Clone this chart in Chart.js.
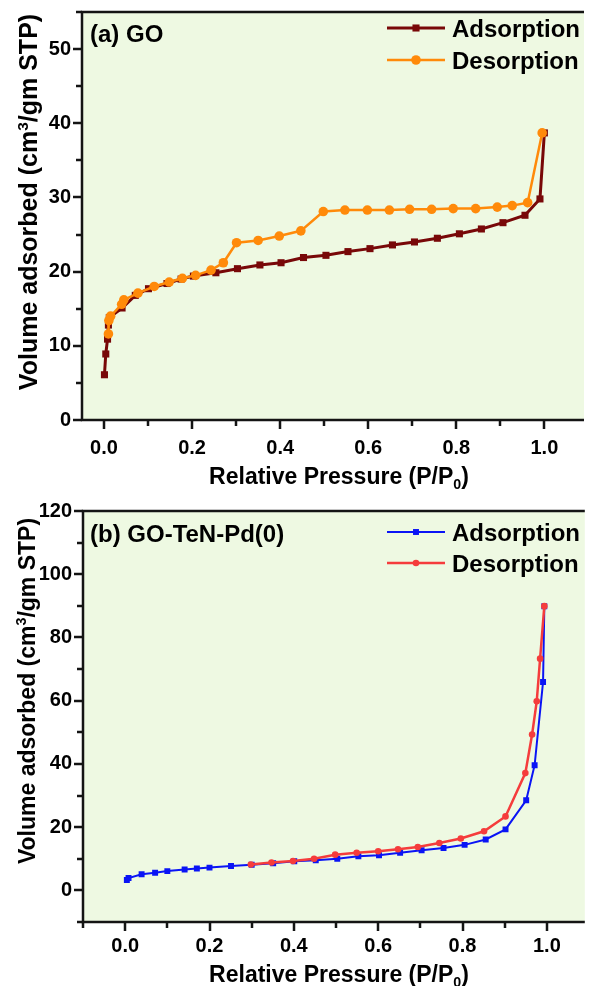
<!DOCTYPE html>
<html>
<head>
<meta charset="utf-8">
<script src="https://cdn.jsdelivr.net/npm/chart.js@4.4.1/dist/chart.umd.min.js"></script>
<style>
    body { margin: 0; background: #fff; }
    #wrap { position: relative; width: 589px; height: 986px; }
    canvas { position: absolute; left: 0; }
    #go-chart { top: 0; }
    #pd-chart { top: 490px; }
</style>
</head>
<body>
<div id="wrap">
    <canvas id="go-chart" width="589" height="490"></canvas>
    <canvas id="pd-chart" width="589" height="496"></canvas>
</div>
<script>
// (a) GO
var goAdsP = [0.001, 0.004, 0.008, 0.010, 0.012, 0.041, 0.071, 0.101, 0.143, 0.175, 0.203, 0.254, 0.303, 0.354, 0.402, 0.453, 0.504, 0.554, 0.604, 0.655, 0.705, 0.757, 0.807, 0.857, 0.906, 0.956, 0.990, 1.000];
var goAdsV = [6.1, 8.9, 10.9, 12.8, 13.8, 15.1, 16.8, 17.7, 18.4, 19.0, 19.4, 19.85, 20.4, 20.9, 21.2, 21.9, 22.2, 22.7, 23.1, 23.6, 24.0, 24.5, 25.1, 25.75, 26.6, 27.6, 29.8, 38.7];
var goDesP = [0.995, 0.962, 0.927, 0.893, 0.844, 0.793, 0.744, 0.694, 0.648, 0.598, 0.547, 0.498, 0.447, 0.398, 0.350, 0.301, 0.271, 0.243, 0.208, 0.178, 0.148, 0.114, 0.077, 0.045, 0.040, 0.015, 0.011, 0.010];
var goDesV = [38.7, 29.3, 28.9, 28.7, 28.5, 28.5, 28.4, 28.4, 28.3, 28.3, 28.3, 28.1, 25.5, 24.8, 24.2, 23.9, 21.2, 20.2, 19.5, 19.1, 18.6, 18.0, 17.1, 16.2, 15.6, 14.0, 13.4, 11.6];

// (b) GO-TeN-Pd(0)
var pdAdsP = [0.004, 0.008, 0.039, 0.071, 0.100, 0.141, 0.170, 0.200, 0.251, 0.300, 0.351, 0.401, 0.452, 0.503, 0.553, 0.602, 0.652, 0.703, 0.755, 0.805, 0.855, 0.902, 0.951, 0.971, 0.991, 0.994];
var pdAdsV = [3.3, 3.9, 5.1, 5.6, 6.1, 6.6, 6.9, 7.2, 7.7, 8.1, 8.6, 9.2, 9.5, 10.0, 10.8, 11.1, 11.9, 12.7, 13.4, 14.4, 16.1, 19.3, 28.5, 39.6, 65.9, 89.9];
var pdDesP = [0.994, 0.984, 0.976, 0.965, 0.949, 0.902, 0.851, 0.796, 0.745, 0.694, 0.647, 0.600, 0.549, 0.498, 0.448, 0.398, 0.347, 0.298];
var pdDesV = [89.9, 73.3, 59.8, 49.3, 37.1, 23.4, 18.7, 16.4, 15.0, 13.7, 13.0, 12.4, 11.9, 11.3, 10.0, 9.3, 8.8, 8.2];

var seriesNames = ['Adsorption', 'Desorption'];
var panelLabels = ['(a) GO', '(b) GO-TeN-Pd(0)'];

var FONT = '"Liberation Sans", Arial, sans-serif';

function toPoints(xs, ys) {
    return xs.map((x, i) => ({ x: x, y: ys[i] }));
}

function isStep(v, step) {
    let r = v / step;
    return Math.abs(r - Math.round(r)) < 1e-6;
}

// every multiple of stepSize inside the axis range (no extra ticks at min / max)
function stepTicks(axis) {
    let step = axis.options.ticks.stepSize;
    let first = Math.ceil(axis.min / step - 1e-9);
    let last = Math.floor(axis.max / step + 1e-9);
    let ticks = [];
    for (let i = first; i <= last; i++) {
        ticks.push({ value: +(i * step).toFixed(6) });
    }
    axis.ticks = ticks;
}

// draws text pieces (normal / sub / sup) centred on x
function drawParts(ctx, parts, x, y) {
    let widths = parts.map(p => {
        ctx.font = `bold ${p.size}px ${FONT}`;
        return ctx.measureText(p.text).width;
    });
    let total = widths.reduce((a, b) => a + b, 0);
    let cx = x - total / 2;
    ctx.textAlign = 'left';
    ctx.textBaseline = 'alphabetic';
    parts.forEach((p, i) => {
        ctx.font = `bold ${p.size}px ${FONT}`;
        ctx.fillText(p.text, cx, y + (p.dy || 0));
        cx += widths[i];
    });
}

function drawMarker(ctx, style, x, y, r) {
    ctx.beginPath();
    if (style == 'rect') {
        let s = r * Math.SQRT1_2;
        ctx.rect(x - s, y - s, 2 * s, 2 * s);
    } else {
        ctx.arc(x, y, r, 0, Math.PI * 2);
    }
    ctx.fill();
}

var framePlugin = {
    id: 'frame',
    beforeDraw(chart, args, o) {
        let a = chart.chartArea;
        let ctx = chart.ctx;
        ctx.save();
        ctx.fillStyle = o.bg;
        ctx.fillRect(a.left, a.top, a.right - a.left, a.bottom - a.top);
        ctx.restore();
    },
    afterDraw(chart, args, o) {
        let a = chart.chartArea;
        let ctx = chart.ctx;
        let xs = chart.scales.x, ys = chart.scales.y;
        ctx.save();
        ctx.strokeStyle = '#141414';
        ctx.fillStyle = '#000';

        // frame: left, bottom, top
        ctx.lineWidth = 2.5;
        ctx.beginPath();
        ctx.moveTo(a.right, a.top);
        ctx.lineTo(a.left, a.top);
        ctx.lineTo(a.left, a.bottom);
        ctx.lineTo(a.right, a.bottom);
        ctx.stroke();

        // tick marks (major / minor), pointing outwards
        ctx.lineWidth = 2.5;
        ctx.beginPath();
        xs.ticks.forEach(t => {
            let px = Math.round(xs.getPixelForValue(t.value));
            let len = isStep(t.value, 0.2) ? 9 : 6;
            ctx.moveTo(px, a.bottom);
            ctx.lineTo(px, a.bottom + len);
        });
        ys.ticks.forEach(t => {
            let py = Math.round(ys.getPixelForValue(t.value));
            let len = isStep(t.value, o.yLabelStep) ? 9 : 6;
            ctx.moveTo(a.left, py);
            ctx.lineTo(a.left - len, py);
        });
        ctx.stroke();

        // panel label
        ctx.font = `bold 24px ${FONT}`;
        ctx.textAlign = 'left';
        ctx.textBaseline = 'alphabetic';
        ctx.fillText(o.label, 90, o.labelY);

        // legend
        chart.data.datasets.forEach((ds, i) => {
            let ly = o.legendY[i];
            ctx.strokeStyle = ds.borderColor;
            ctx.fillStyle = ds.borderColor;
            ctx.lineWidth = ds.borderWidth;
            ctx.beginPath();
            ctx.moveTo(387, ly);
            ctx.lineTo(445, ly);
            ctx.stroke();
            drawMarker(ctx, ds.pointStyle, 416, ly, ds.pointRadius);
            ctx.fillStyle = '#000';
            ctx.font = `bold 24px ${FONT}`;
            ctx.textAlign = 'left';
            ctx.fillText(ds.label, 452, ly + 9);
        });

        // x title
        ctx.fillStyle = '#000';
        let s = o.xTitleSize;
        drawParts(ctx, [
            { text: 'Relative Pressure (P/P', size: s },
            { text: '0', size: s * 0.62, dy: s * 0.22 },
            { text: ')', size: s }
        ], 339, o.xTitleY);

        // y title (rotated)
        let ts = o.yTitleSize;
        ctx.translate(o.yTitleX, o.yTitleY);
        ctx.rotate(-Math.PI / 2);
        drawParts(ctx, [
            { text: 'Volume adsorbed (cm', size: ts },
            { text: '3', size: ts * 0.62, dy: -ts * 0.38 },
            { text: '/gm STP)', size: ts }
        ], 0, 0);
        ctx.restore();
    }
};

function makeOptions(xr, yr, fr) {
    return {
        responsive: false,
        animation: false,
        devicePixelRatio: 1,
        layout: { padding: { top: fr.padTop, left: 0, right: 0, bottom: 0 } },
        plugins: {
            legend: { display: false },
            tooltip: { enabled: false },
            frame: fr
        },
        scales: {
            x: {
                type: 'linear',
                min: xr[0],
                max: xr[1],
                grid: { display: false, drawTicks: false },
                border: { display: false },
                ticks: {
                    stepSize: 0.1,
                    autoSkip: false,
                    maxRotation: 0,
                    padding: fr.xTickPad,
                    color: '#000',
                    font: { family: FONT, size: 20, weight: 'bold' },
                    callback: (v) => isStep(v, 0.2) ? v.toFixed(1) : ''
                },
                afterBuildTicks: stepTicks,
                afterFit: (axis) => {
                    axis.height = fr.xAxisHeight;
                    axis.paddingLeft = 0;
                    axis.paddingRight = 0;
                }
            },
            y: {
                type: 'linear',
                min: yr[0],
                max: yr[1],
                grid: { display: false, drawTicks: false },
                border: { display: false },
                ticks: {
                    stepSize: fr.yLabelStep / 2,
                    autoSkip: false,
                    padding: 11,
                    color: '#000',
                    font: { family: FONT, size: 20, weight: 'bold' },
                    callback: (v) => isStep(v, fr.yLabelStep) ? String(v) : ''
                },
                afterBuildTicks: stepTicks,
                afterFit: (axis) => {
                    axis.width = fr.yAxisWidth;
                    axis.paddingTop = 0;
                    axis.paddingBottom = 0;
                }
            }
        }
    };
}

var charts = {};

charts.go = new Chart(
    document.getElementById('go-chart'),
    {
        type: 'line',
        data: {
            datasets: [
                {
                    label: seriesNames[0],
                    data: toPoints(goAdsP, goAdsV),
                    borderColor: '#780808',
                    backgroundColor: '#780808',
                    borderWidth: 3,
                    pointStyle: 'rect',
                    pointRadius: 5,
                    pointBorderWidth: 0,
                    tension: 0,
                    order: 1
                },
                {
                    label: seriesNames[1],
                    data: toPoints(goDesP, goDesV),
                    borderColor: '#ff8a0a',
                    backgroundColor: '#ff8a0a',
                    borderWidth: 2.5,
                    pointStyle: 'circle',
                    pointRadius: 4.8,
                    pointBorderWidth: 0,
                    tension: 0,
                    order: 0
                }]
        },
        options: makeOptions([-0.05, 1.09], [0, 55], {
            bg: '#eef9e2',
            padTop: 12,
            xAxisHeight: 70,
            yAxisWidth: 82,
            xTickPad: 16,
            yLabelStep: 10,
            label: panelLabels[0],
            labelY: 42,
            legendY: [28, 60],
            xTitleSize: 23,
            xTitleY: 484,
            yTitleSize: 25,
            yTitleX: 37,
            yTitleY: 202
        }),
        plugins: [framePlugin]
    }
);

charts.pd = new Chart(
    document.getElementById('pd-chart'),
    {
        type: 'line',
        data: {
            datasets: [
                {
                    label: seriesNames[0],
                    data: toPoints(pdAdsP, pdAdsV),
                    borderColor: '#0a14f5',
                    backgroundColor: '#0a14f5',
                    borderWidth: 2,
                    pointStyle: 'rect',
                    pointRadius: 4.2,
                    pointBorderWidth: 0,
                    tension: 0,
                    order: 1
                },
                {
                    label: seriesNames[1],
                    data: toPoints(pdDesP, pdDesV),
                    borderColor: '#f53c3c',
                    backgroundColor: '#f53c3c',
                    borderWidth: 2.5,
                    pointStyle: 'circle',
                    pointRadius: 3.3,
                    pointBorderWidth: 0,
                    tension: 0,
                    order: 0
                }]
        },
        options: makeOptions([-0.1, 1.09], [-10, 120], {
            bg: '#eef9e2',
            padTop: 21,
            xAxisHeight: 64,
            yAxisWidth: 83,
            xTickPad: 12,
            yLabelStep: 20,
            label: panelLabels[1],
            labelY: 52,
            legendY: [42, 73],
            xTitleSize: 23,
            xTitleY: 492,
            yTitleSize: 23,
            yTitleX: 35,
            yTitleY: 201
        }),
        plugins: [framePlugin]
    }
);
</script>
</body>
</html>
